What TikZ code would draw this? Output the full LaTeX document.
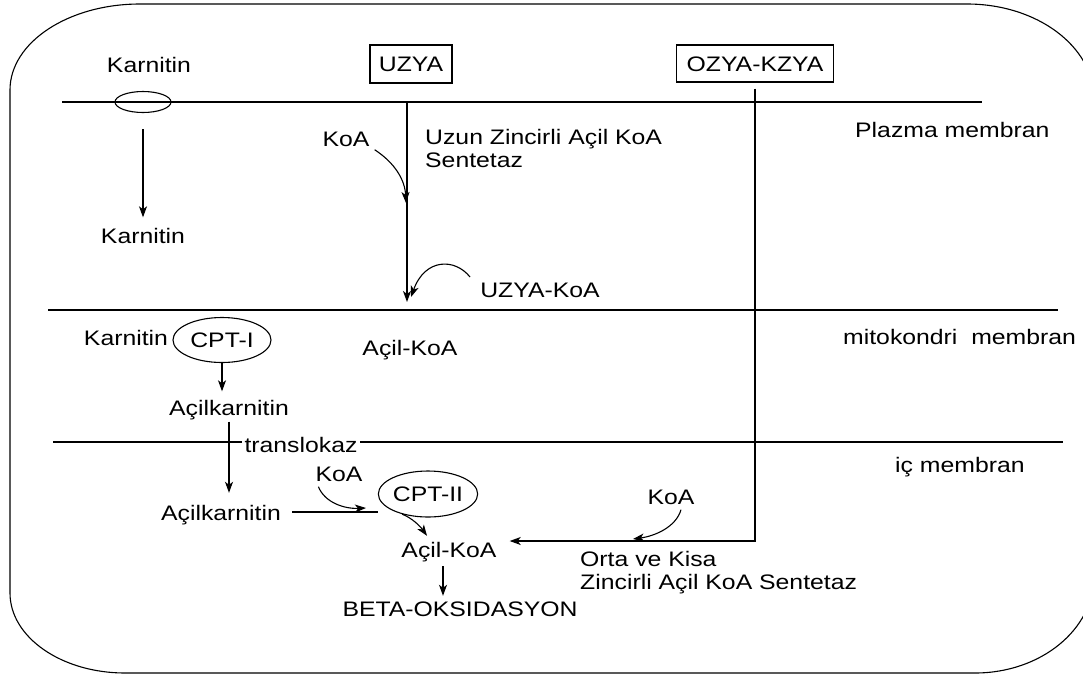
\documentclass[tikz,border=0pt]{standalone}
\usepackage{fontspec}
\setmainfont{Liberation Sans}[FakeStretch=1.18]
\usetikzlibrary{arrows.meta,shapes.geometric}
\begin{document}
\begin{tikzpicture}[x=1pt,y=-1pt,
  lbl/.style={font=\fontsize{21pt}{23pt}\selectfont, inner sep=1pt, text height=15pt, text depth=4pt},
  lblw/.style={lbl, anchor=west},
  box/.style={lbl, draw, line width=1.1pt, inner sep=0pt, text depth=0pt},
  enz/.style={lbl, ellipse, draw, line width=1.1pt, inner sep=0pt, text depth=0pt},
  line/.style={line width=1.1pt},
  arr/.style={line, -{Stealth[length=11pt,width=8pt,inset=3pt]}}]
\useasboundingbox (0,0) rectangle (1083,673);
% cell outline
\draw[line] (10,90) arc[start angle=180,end angle=90,x radius=130pt,y radius=86pt]
  -- (967,4) arc[start angle=90,end angle=0,x radius=127pt,y radius=95pt]
  -- (1094,576) arc[start angle=0,end angle=-90,x radius=119pt,y radius=97pt]
  -- (125,673) arc[start angle=270,end angle=180,x radius=115pt,y radius=80pt] -- cycle;
% membranes
\coordinate (pmL) at (62,102); \coordinate (pmR) at (982,102);
\coordinate (mmL) at (48,310); \coordinate (mmR) at (1058,310);
\coordinate (imL) at (53,442); \coordinate (imR) at (1063,442);
\draw[line] (pmL) -- (pmR);
\draw[line] (mmL) -- (mmR);
\draw[line] (imL) -- (imR);
% plasma membrane region
\node[lbl] (karnA) at (149,67) {Karnitin};
\node[draw, ellipse, line width=1.1pt, minimum width=56pt, minimum height=21pt, inner sep=0pt] (chan) at (143,102) {};
\node[lbl] (karnB) at (143,238) {Karnitin};
\draw[arr, shorten <=16pt, shorten >=10pt] (chan.south) -- (karnB.north);
\node[box, minimum width=82pt, minimum height=38pt] (uzya) at (411,64) {UZYA};
\node[box, minimum width=157pt, minimum height=37pt] (ozya) at (755,63.5) {OZYA-KZYA};
\coordinate (uTop) at (407,102); \coordinate (uEnd) at (407,302);
\draw[arr] (uTop) -- (uEnd);
\node[lbl] (koaA) at (346,141) {KoA};
\coordinate (koaAend) at (406,203);
\draw[arr] ([shift={(4,-2)}]koaA.south east) .. controls (395,163) and (405,180) .. (koaAend);
\node[lblw] (uzunA) at (424,139) {Uzun Zincirli Açil KoA};
\node[lblw] (uzunB) at (424,162) {Sentetaz};
\node[lblw] (plazma) at (854,132) {Plazma membran};
\node[lbl] (uzkoa) at (540,292) {UZYA-KoA};
\coordinate (arcS) at (470,277); \coordinate (arcE) at (411,297);
\draw[arr] (arcS) .. controls (455,258) and (425,258) .. (arcE);
% mitochondrial membrane region
\node[lbl] (karnC) at (126,340) {Karnitin};
\node[enz, minimum width=98pt, minimum height=45pt] (cpt1) at (222,340) {CPT-I};
\node[lbl] (acilA) at (229,410) {Açilkarnitin};
\draw[arr, shorten >=8pt] (cpt1.south) -- (cpt1.south |- acilA.north);
\node[lbl] (acilkoaA) at (410,349.5) {Açil-KoA};
\node[lblw] (mito) at (842,339) {mitokondri\ \ membran};
% inner membrane
\node[lbl, fill=white, inner xsep=3pt] (transl) at (301,446.5) {translokaz};
\node[lbl] (acilB) at (221,514.5) {Açilkarnitin};
\draw[arr, shorten <=1pt, shorten >=11pt] (acilA.south) -- (acilA.south |- acilB.north);
\node[lblw] (ic) at (894,467) {iç membran};
\node[lbl] (koaB) at (339,476) {KoA};
\node[enz, minimum width=98pt, minimum height=46pt] (cpt2) at (428,494) {CPT-II};
\draw[line, shorten <=10pt] ([yshift=2.5pt]acilB.east) -- ([yshift=2.5pt]acilB.east -| cpt2.west);
\coordinate (kBend) at (366,508);
\draw[arr] ([shift={(4,0)}]koaB.south west) .. controls (325,503) and (345,509) .. (kBend);
\node[lbl] (acilkoaB) at (449,552) {Açil-KoA};
\draw[arr] (cpt2.218) .. controls (412,518) and (420,526) .. ([shift={(-22,-5.5)}]acilkoaB.north);
\node[lbl] (beta) at (460,611) {BETA-OKSIDASYON};
\draw[arr, shorten <=3.5pt, shorten >=4.5pt] ([xshift=-6pt]acilkoaB.south) -- ([xshift=-6pt]acilkoaB.south |- beta.north);
\coordinate (ozc) at (755,541);
\draw[arr, shorten <=6pt, shorten >=12pt] (ozya.south) -- (ozc) -- (ozc -| acilkoaB.east);
\node[lbl] (koaC) at (671,499) {KoA};
\coordinate (kCend) at (633,539);
\draw[arr] ([shift={(10,0)}]koaC.south) .. controls (676,527) and (655,536) .. (kCend);
\node[lblw] (orta1) at (579,561) {Orta ve Kisa};
\node[lblw] (orta2) at (579,584) {Zincirli Açil KoA Sentetaz};
\end{tikzpicture}
\end{document}
